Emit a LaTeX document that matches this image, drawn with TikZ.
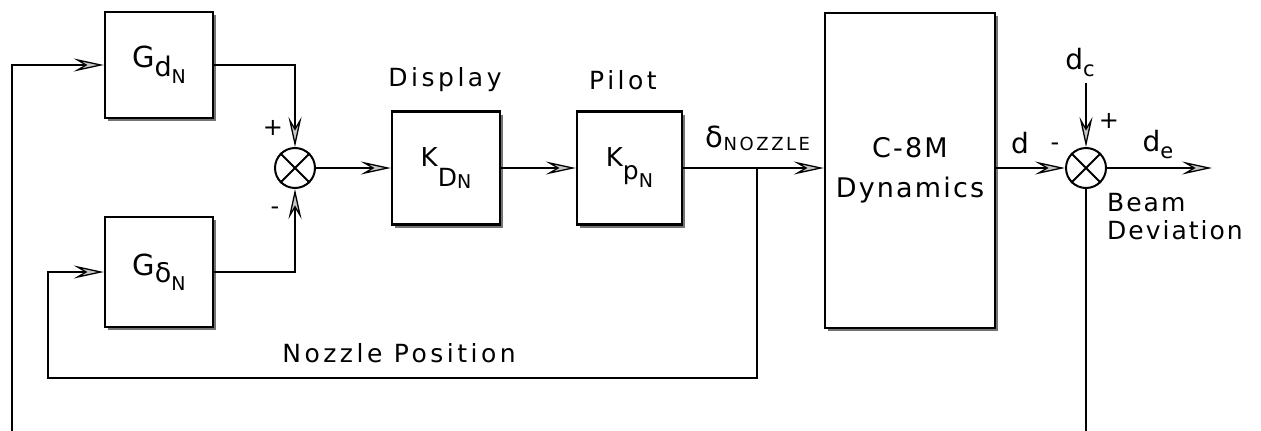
\documentclass[tikz,border=0pt]{standalone}
\usepackage{fontspec}
\setmainfont{DejaVu Sans}
\newfontfamily\wide{DejaVu Sans}[LetterSpace=8]
\newfontfamily\wider{DejaVu Sans}[LetterSpace=14]
\usetikzlibrary{arrows.meta,shadows}
\newcommand{\fs}[1]{\fontsize{#1}{#1}\selectfont}
\begin{document}
\begin{tikzpicture}[x=1pt,y=-1pt, line width=2.4pt,
  blk/.style={draw, fill=white, inner sep=0pt,
    drop shadow={shadow xshift=3pt, shadow yshift=-3pt, opacity=1, fill=black!55}},
  sumj/.style={draw, circle, minimum size=40pt, inner sep=0pt, line width=2pt},
  arr/.style={-{Stealth[length=30pt,width=13pt,inset=11pt,fill=gray!45,line width=1.3pt]}},
  lbl/.style={font=\wider\fs{25}, inner sep=0pt},
  sgn/.style={font=\fs{24}, inner sep=0pt}]
\useasboundingbox (0,0) rectangle (1261,431);

% blocks
\node[blk, minimum width=108pt, minimum height=106pt, font=\fs{29}] (gd) at (159,65)
  {G\raisebox{-9pt}{\fs{27}d\raisebox{-7pt}{\fs{19}N}}};
\node[blk, minimum width=108pt, minimum height=110pt, font=\fs{29}] (gdel) at (159,272)
  {G\raisebox{-7pt}{\fs{27}δ\raisebox{-8pt}{\fs{19}N}}};
\node[blk, minimum width=108pt, minimum height=113pt, font=\fs{26}] (disp) at (446,168)
  {K\raisebox{-20pt}{\fs{25}D\raisebox{-2pt}{\fs{19}N}}};
\node[blk, minimum width=105pt, minimum height=113pt, font=\fs{26}] (pilot) at (629.5,168)
  {K\raisebox{-13pt}{\fs{25}p\raisebox{-8pt}{\fs{19}N}}};
\node[blk, minimum width=170pt, minimum height=315pt, font=\wide\fs{27}, align=center] (dyn) at (910,170.5)
  {C-8M\\[13pt]Dynamics};

% summing junctions
\node[sumj] (s1) at (295,168) {};
\draw[line width=1.8pt] (s1.north east) -- (s1.south west) (s1.north west) -- (s1.south east);
\node[sumj] (s2) at (1086,168) {};
\draw[line width=1.8pt] (s2.north east) -- (s2.south west) (s2.north west) -- (s2.south east);

% coordinates
\coordinate (L0) at (12,431);
\coordinate (br) at (757,168);
\coordinate (fbl) at (48,378);
\coordinate (dctop) at (1086,83);
\coordinate (out) at (1212,168);
\coordinate (R0) at (1086,431);

% connectors
\draw[arr] (L0) |- (gd.west);
\draw[arr] (gd.east) -| (s1.north);
\draw[arr] (gdel.east) -| (s1.south);
\draw[arr] (s1.east) -- (disp.west);
\draw[arr] (disp.east) -- (pilot.west);
\draw[arr] (pilot.east) -- (pilot.east -| dyn.west);
\draw[arr] (br) |- (fbl) |- (gdel.west);
\draw[arr] (dyn.east |- s2) -- (s2.west);
\draw[arr] (dctop) -- (s2.north);
\draw[arr] (s2.east) -- (out);
\draw (s2.south) -- (R0);

% labels
\node[sgn] (p1) at (273,128) {+};
\node[sgn] (m1) at (275,211) {-};
\node[lbl] (ldisp) at (445,80) {Display};
\node[lbl] (lpilot) at (623,80) {Pilot};
\node[inner sep=0pt, font=\fs{29}] (lnoz) at (758,138) {δ\raisebox{-3pt}{\wider\fs{18}NOZZLE}};
\node[lbl] (lnp) at (399,353) {Nozzle Position};
\node[lbl, font=\fs{28}] (ld) at (1020,143) {d};
\node[sgn] (m2) at (1055,147) {-};
\node[sgn] (p2) at (1109,121) {+};
\node[inner sep=0pt, font=\fs{28}] (ldc) at (1080,63) {d\raisebox{-7pt}{\fs{21}c}};
\node[inner sep=0pt, font=\fs{28}] (lde) at (1158,145) {d\raisebox{-7pt}{\fs{21}e}};
\node[inner sep=0pt, anchor=west, align=left, font=\wide\fontsize{25}{28}\selectfont] (lbd) at (1106,217) {Beam\\Deviation};
\end{tikzpicture}
\end{document}
